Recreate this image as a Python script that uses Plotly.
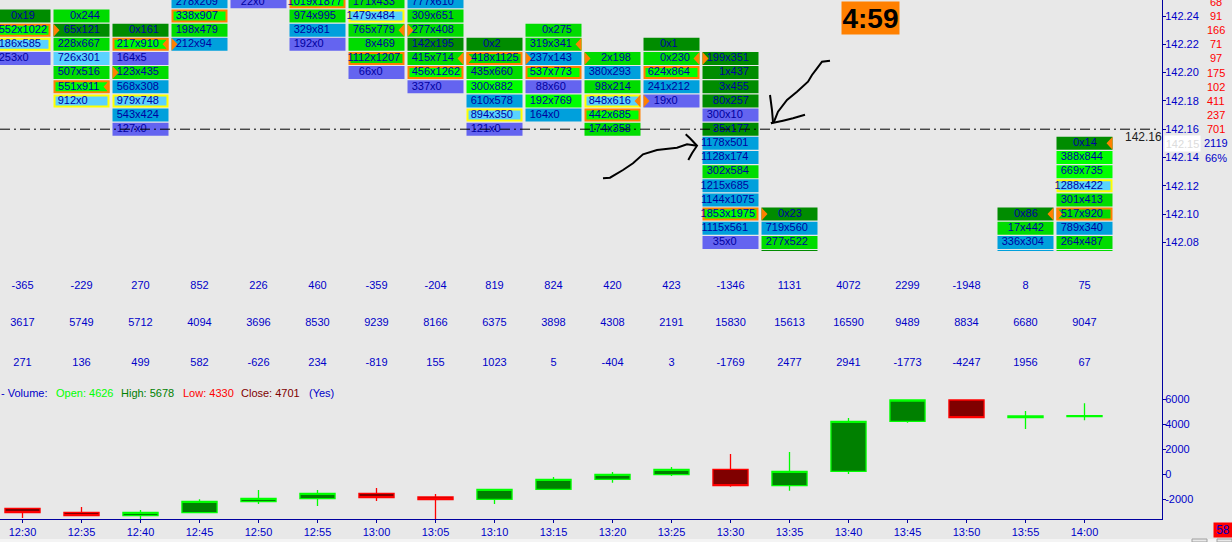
import plotly.graph_objects as go

times = ['12:30', '12:35', '12:40', '12:45', '12:50', '12:55', '13:00', '13:05', '13:10', '13:15',
         '13:20', '13:25', '13:30', '13:35', '13:40', '13:45', '13:50', '13:55', '14:00']

# footprint cells, one row per price going down from the top price of the column
top_price = [142.24, 142.24, 142.23, 142.25, 142.25, 142.25, 142.25, 142.25, 142.22, 142.23,
             142.21, 142.22, 142.21, 142.10, None, None, None, 142.10, 142.15]
cell_text = [
    ['0x19', '552x1022', '186x585', '253x0'],
    ['0x244', '65x121', '228x667', '726x301', '507x516', '551x911', '912x0'],
    ['0x161', '217x910', '164x5', '123x435', '568x308', '979x748', '543x424', '127x0'],
    ['278x209', '338x907', '198x479', '212x94'],
    ['22x0'],
    ['1019x1877', '974x995', '329x81', '192x0'],
    ['171x433', '1479x484', '765x779', '8x469', '1112x1207', '66x0'],
    ['777x610', '309x651', '277x408', '142x195', '415x714', '456x1262', '337x0'],
    ['0x2', '418x1125', '435x660', '300x882', '610x578', '894x350', '121x0'],
    ['0x275', '319x341', '237x143', '537x773', '88x60', '192x769', '164x0'],
    ['2x198', '380x293', '98x214', '848x616', '442x685', '174x358'],
    ['0x1', '0x230', '624x864', '241x212', '19x0'],
    ['199x351', '1x437', '3x455', '80x257', '300x10', '35x177', '1178x501', '1128x174', '302x584',
     '1215x685', '1144x1075', '1853x1975', '1115x561', '35x0'],
    ['0x23', '719x560', '277x522', ''],
    [], [], [],
    ['0x86', '17x442', '336x304', ''],
    ['0x14', '388x844', '669x735', '1288x422', '301x413', '517x920', '789x340', '264x487', ''],
]
cell_kind = ['DBLP', 'GDGLGBL', 'DBPGCLCP', 'CBGC', 'P', 'BGCP', 'GLGGGP', 'CGGDGBP', 'DGGBCLP', 'GGCBPBC',
             'GCGLBG', 'DGBCP', 'DDDDPDCCGCCBCP', 'DCGD', '', '', '', 'DGCC', 'DBBLGGCGG']
cell_edge = ['.oy.', '.....oy', '.o...y..', '.o..', '.', 'o...', '.y..o.', '.....o.', '.o...y.', '...o...',
             '...yo.', '..o..', '...........o..', '....', '', '', '', '....', '...y.o...']
cell_mark = ['....', '.>...<.', '.<.>....', '...>', '.', '....', '..<...', '..>.<..', '.>.....', '.<>....',
             '>..<..', '.<..>', '>.............', '>...', '', '', '', '<...', '<....>...']

# three study rows between the panels
study_a = [-365, -229, 270, 852, 226, 460, -359, -204, 819, 824, 420, 423, -1346, 1131, 4072, 2299, -1948, 8, 75]
study_b = [3617, 5749, 5712, 4094, 3696, 8530, 9239, 8166, 6375, 3898, 4308, 2191, 15830, 15613, 16590, 9489, 8834, 6680, 9047]
study_c = [271, 136, 499, 582, -626, 234, -819, 155, 1023, 5, -404, 3, -1769, 2477, 2941, -1773, -4247, 1956, 67]

# volume candles
vol_open = [-2724, -3044, -3311, -3071, -2191, -1951, -1524, -1817, -2004, -1204, -404, -30, 397, -910, 237, 4237, 5944, 4530, 4626]
vol_high = [-2724, -2617, -2857, -2004, -1257, -1257, -1097, -1577, -1204, -217, 183, 583, 1623, 1783, 4504, 5944, 5944, 5064, 5678]
vol_low = [-3497, -3311, -3577, -3071, -2377, -2537, -2137, -3660, -2377, -1204, -670, -137, -990, -1310, 23, 4130, 4530, 3624, 4330]
vol_close = [-3071, -3311, -3044, -2164, -1924, -1524, -1871, -2030, -1204, -404, 0, 397, -910, 237, 4237, 5944, 4530, 4664, 4701]

price_ticks = [142.24, 142.22, 142.20, 142.18, 142.16, 142.14, 142.12, 142.10, 142.08]
volume_ticks = [6000, 4000, 2000, 0, -2000]

ladder_prices = [142.25, 142.24, 142.23, 142.22, 142.21, 142.20, 142.19, 142.18, 142.17, 142.16]
ladder_values = [68, 91, 166, 71, 97, 175, 102, 411, 237, 701]
last_price = 142.16
bid_price = 142.15
session_total = '2119'
session_pct = '66%'

W, H = 1232, 542
AXIS_X = 1162
PANEL1_B, PANEL2_B, PANEL3_B = 251, 385, 519
BG = '#E8E8E8'
TXT = '#0000C8'
CELL_TXT = '#0000A0'
FONT = 'Liberation Sans'
FILLS = {'D': '#008C00', 'G': '#00DC00', 'B': '#00FF00', 'C': '#00A0DC', 'L': '#5AD2FF', 'P': '#6464F0'}
EDGES = {'o': '#FF8000', 'y': '#FFFF00'}

COL_W = 59.0
PX_TICK = 14.15
COL0 = 22.5


def col_px(px):
    return (px - COL0) / COL_W


def price_at(ypx):
    return 142.24 + (16 - ypx) * 0.01 / PX_TICK


def px_paper(x, y):
    return x / W, 1 - y / H


bar_x, bar_base, bar_h, bar_w, bar_fill, bar_line, bar_lw = [], [], [], [], [], [], []
txt_x, txt_y, txt_s = [], [], []
tri_x, tri_y = [], []

cell_h = 13 * 0.01 / PX_TICK
half_w = 28 / COL_W
tri_w = 6 / COL_W
for c, rows in enumerate(cell_text):
    for r, label in enumerate(rows):
        price = top_price[c] - r * 0.01
        edge = cell_edge[c][r]
        shrink = 2 if edge != '.' else 0
        h = (13 - shrink) * 0.01 / PX_TICK
        bar_x.append(c)
        bar_base.append(price - h / 2)
        bar_h.append(h)
        bar_w.append((56 - shrink) / COL_W)
        bar_fill.append(FILLS[cell_kind[c][r]])
        bar_line.append(EDGES.get(edge, BG))
        bar_lw.append(2 if edge != '.' else 0)

        if label:
            # the x of each cell sits on one vertical line, bid to its left and ask to its right
            bid, ask = label.split('x')
            txt_x.append(c + (-2.7 + (len(ask) - len(bid)) * 3.05) / COL_W)
            txt_y.append(price)
            txt_s.append(label)

        mark = cell_mark[c][r]
        if mark == '>':
            tri_x += [c - half_w, c - half_w + tri_w, c - half_w, None]
            tri_y += [price + cell_h / 2, price, price - cell_h / 2, None]
        elif mark == '<':
            tri_x += [c + half_w, c + half_w - tri_w, c + half_w, None]
            tri_y += [price + cell_h / 2, price, price - cell_h / 2, None]

fig = go.Figure()

fig.add_trace(go.Bar(x=bar_x, y=bar_h, base=bar_base, width=bar_w,
                     marker=dict(color=bar_fill, line=dict(color=bar_line, width=bar_lw)),
                     hoverinfo='skip', showlegend=False, xaxis='x', yaxis='y'))
fig.add_trace(go.Scatter(x=tri_x, y=tri_y, mode='lines', fill='toself', fillcolor='#FF8000',
                         line=dict(width=0, color='#FF8000'), hoverinfo='skip', showlegend=False,
                         xaxis='x', yaxis='y'))
fig.add_trace(go.Scatter(x=txt_x, y=txt_y, text=txt_s, mode='text', textposition='middle center',
                         textfont=dict(family=FONT, size=11, color=CELL_TXT), hoverinfo='skip',
                         showlegend=False, xaxis='x', yaxis='y'))

# last price line
fig.add_trace(go.Scatter(x=[col_px(0), col_px(1156)], y=[last_price, last_price], mode='lines',
                         line=dict(color='black', width=1, dash='10px,4px,2px,4px'), hoverinfo='skip',
                         showlegend=False, xaxis='x', yaxis='y'))

# study rows
for row_y, row in zip([286, 323, 363], [study_a, study_b, study_c]):
    fig.add_trace(go.Scatter(x=list(range(len(row))), y=[row_y] * len(row), text=[str(v) for v in row],
                             mode='text', textposition='middle center',
                             textfont=dict(family=FONT, size=11, color=TXT), hoverinfo='skip',
                             showlegend=False, xaxis='x', yaxis='y2'))

fig.add_trace(go.Candlestick(x=list(range(len(times))), open=vol_open, high=vol_high, low=vol_low, close=vol_close,
                             increasing=dict(line=dict(color='#00FF00', width=1.3), fillcolor='#008000'),
                             decreasing=dict(line=dict(color='#FF0000', width=1.3), fillcolor='#800000'),
                             whiskerwidth=0, hoverinfo='skip', showlegend=False, xaxis='x', yaxis='y3'))

annotations = []


def label(x, y, text, color, size=11, anchor='left', **kw):
    px, py = px_paper(x, y)
    annotations.append(dict(xref='paper', yref='paper', x=px, y=py, text=text, showarrow=False, xanchor=anchor,
                            yanchor='middle', font=dict(family=FONT, size=size, color=color), borderpad=0, **kw))


label(0, 393, '- Volume:', TXT)
label(55, 393, 'Open: 4626', '#00FF00')
label(120, 393, 'High: 5678', '#008000')
label(182, 393, 'Low: 4330', '#FF0000')
label(240, 393, 'Close: 4701', '#800000')
label(308, 393, '(Yes)', TXT)
label(1143, 137, f'{last_price:.2f}', '#202020', anchor='center', size=12)
label(1182.5, 143.5, f'{bid_price:.2f}', '#DCDCDC', anchor='center', bgcolor='white', width=35, height=15)
label(870.5, 18, '<b>4:59</b>', 'black', size=28, anchor='center', bgcolor='#FF8000', width=57, height=32)
label(1223, 530, '58', TXT, size=12, anchor='center', bgcolor='#FF0000', width=18, height=14)

# ladder on the right of the price axis, outside the x range so annotations not traces
for price, value in zip(ladder_prices, ladder_values):
    annotations.append(dict(xref='paper', yref='y', x=1216 / W, y=price, text=str(value), showarrow=False,
                            xanchor='center', yanchor='middle', font=dict(family=FONT, size=11, color='#FF0000')))
for price, value in zip([142.15, 142.14], [session_total, session_pct]):
    annotations.append(dict(xref='paper', yref='y', x=1216 / W, y=price, text=value, showarrow=False,
                            xanchor='center', yanchor='middle', font=dict(family=FONT, size=11, color=TXT)))

# arrows drawn by hand on the screenshot
strokes = [
    [(830, 60.7), (822, 61.7), (817, 68.3), (812, 75), (808, 81.7), (797, 91.7), (787, 100), (778, 111.7), (774, 121.7), (771, 123.3)],
    [(770, 95), (772, 110), (773, 122)],
    [(771, 123.3), (783, 120.7), (793, 118.3), (805, 114.7)],
    [(603, 178.3), (610, 177.7), (623, 170), (633, 163.3), (643, 154.3), (657, 150), (677, 147.7), (687, 144.3), (697, 145.7)],
    [(685.7, 134.3), (690, 138.3), (697, 145.7), (692, 153.3), (688.3, 160)],
]
shapes = []
for pts in strokes:
    path = ''
    for i, (x, y) in enumerate(pts):
        px, py = px_paper(x, y)
        path += f"{'M' if i == 0 else 'L'} {px:.5f} {py:.5f} "
    shapes.append(dict(type='path', path=path, xref='paper', yref='paper', line=dict(color='black', width=2), layer='above'))

# bottom strip of the window
x0, y0 = px_paper(0, 539)
x1, y1 = px_paper(W, H)
shapes.append(dict(type='rect', xref='paper', yref='paper', x0=x0, y0=y0, x1=x1, y1=y1,
                   fillcolor='#F4F4F4', line=dict(width=0), layer='below'))
for bx0, bx1 in [(1192, 1207), (1217, 1232)]:
    shapes.append(dict(type='rect', xref='paper', yref='paper', x0=bx0 / W, y0=y0, x1=bx1 / W, y1=y1,
                       fillcolor='#E8E8E8', line=dict(color='#A0A0A0', width=1), layer='below'))

axis_style = dict(side='right', anchor='x', showline=True, linecolor='#0000A0', linewidth=1, showgrid=False,
                  zeroline=False, tickfont=dict(family=FONT, size=11, color=TXT), ticks='outside', ticklen=3,
                  tickcolor='#0000A0', ticklabelstandoff=-3)

fig.update_layout(
    width=W, height=H,
    margin=dict(l=0, r=0, t=0, b=0),
    paper_bgcolor=BG, plot_bgcolor=BG,
    barmode='overlay', boxgap=0.15, boxgroupgap=0.3,
    showlegend=False,
    annotations=annotations, shapes=shapes,
    xaxis=dict(domain=[0, AXIS_X / W], range=[col_px(0), col_px(AXIS_X)], anchor='y3',
               tickmode='array', tickvals=list(range(len(times))), ticktext=times,
               tickfont=dict(family=FONT, size=11, color=TXT), ticks='outside', ticklen=3, tickcolor='#0000A0',
               showline=True, linecolor='#0000A0', linewidth=1, showgrid=False, zeroline=False,
               rangeslider=dict(visible=False)),
    yaxis=dict(domain=[1 - PANEL1_B / H, 1], range=[price_at(PANEL1_B), price_at(0)],
               tickmode='array', tickvals=price_ticks, ticktext=[f'{p:.2f}' for p in price_ticks], **axis_style),
    yaxis2=dict(domain=[1 - PANEL2_B / H, 1 - PANEL1_B / H], range=[PANEL2_B, PANEL1_B], side='right', anchor='x',
                showline=True, linecolor='#0000A0', linewidth=1, showgrid=False, zeroline=False,
                showticklabels=False, ticks=''),
    yaxis3=dict(domain=[1 - PANEL3_B / H, 1 - PANEL2_B / H],
                range=[-2000 - (PANEL3_B - 499.3) / 0.0125, 6000 + (399.3 - PANEL2_B) / 0.0125],
                tickmode='array', tickvals=volume_ticks, ticktext=[str(v) for v in volume_ticks], **axis_style),
)

fig.write_html('out.html', config={'displayModeBar': False}, post_script="document.body.style.margin='0';")
